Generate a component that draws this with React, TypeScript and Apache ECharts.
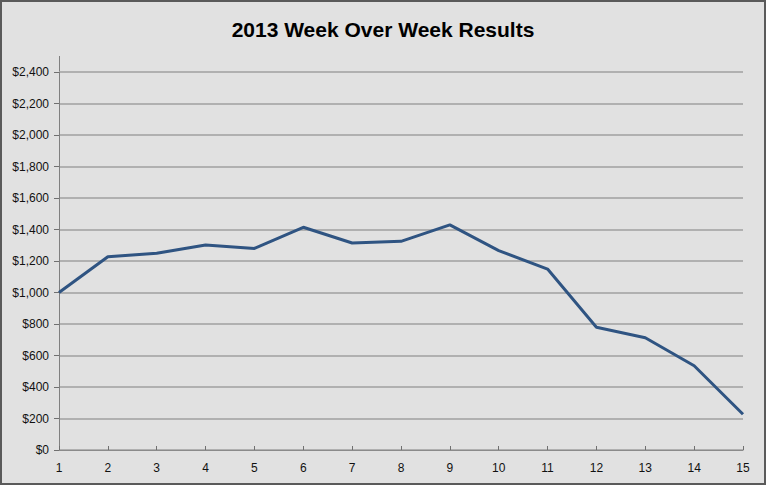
import React, { useEffect, useRef } from "react";
import * as echarts from "echarts";

const weeks = ["1", "2", "3", "4", "5", "6", "7", "8", "9", "10", "11", "12", "13", "14", "15"];
const results = [1000, 1227, 1249, 1302, 1280, 1414, 1314, 1325, 1429, 1266, 1149, 779, 713, 535, 227];
const yMin = 0;
const yMax = 2400;
const yStep = 200;

export default function App() {
  const ref = useRef<HTMLDivElement>(null);
  useEffect(() => {
    document.body.style.margin = "0";
    const chart = echarts.init(ref.current!, null, { renderer: "svg" });
    const font = "'Liberation Sans', Arial, sans-serif";
    chart.setOption({
      animation: false,
      backgroundColor: "#e1e1e1",
      title: {
        text: "2013 Week Over Week Results",
        left: "center",
        top: 14,
        textStyle: { fontFamily: font, fontSize: 21, fontWeight: "bold", color: "#000" },
      },
      grid: { left: 59, right: 23, top: 72, bottom: 35, containLabel: false },
      xAxis: {
        type: "category",
        data: weeks,
        boundaryGap: false,
        axisLine: { lineStyle: { color: "#8a8a8a", width: 1 } },
        axisTick: { show: true, inside: true, length: 4, lineStyle: { color: "#707070" } },
        axisLabel: { fontFamily: font, fontSize: 12, color: "#111", margin: 12 },
        splitLine: { show: false },
      },
      yAxis: {
        type: "value",
        min: yMin,
        max: yMax,
        interval: yStep,
        axisLine: { show: true, lineStyle: { color: "#808080", width: 1 } },
        axisTick: { show: true, length: 5, lineStyle: { color: "#707070" } },
        axisLabel: {
          fontFamily: font,
          fontSize: 12,
          color: "#111",
          margin: 10,
          formatter: (v: number) => "$" + v.toLocaleString("en-US"),
        },
        splitLine: { show: true, lineStyle: { color: "#b0b0b0", width: 2 } },
      },
      graphic: [
        {
          type: "line",
          shape: { x1: 59.5, y1: 56, x2: 59.5, y2: 72 },
          style: { stroke: "#808080", lineWidth: 1 },
        },
        {
          type: "rect",
          shape: { x: 1, y: 1, width: 764, height: 483 },
          style: { fill: "none", stroke: "#5a5a5a", lineWidth: 2 },
          z: 100,
        },
      ],
      series: [
        {
          type: "line",
          data: results,
          symbol: "none",
          lineStyle: { color: "#2f5482", width: 3 },
          z: 10,
        },
      ],
    });
    return () => chart.dispose();
  }, []);
  return <div ref={ref} style={{ width: 766, height: 485 }} />;
}
